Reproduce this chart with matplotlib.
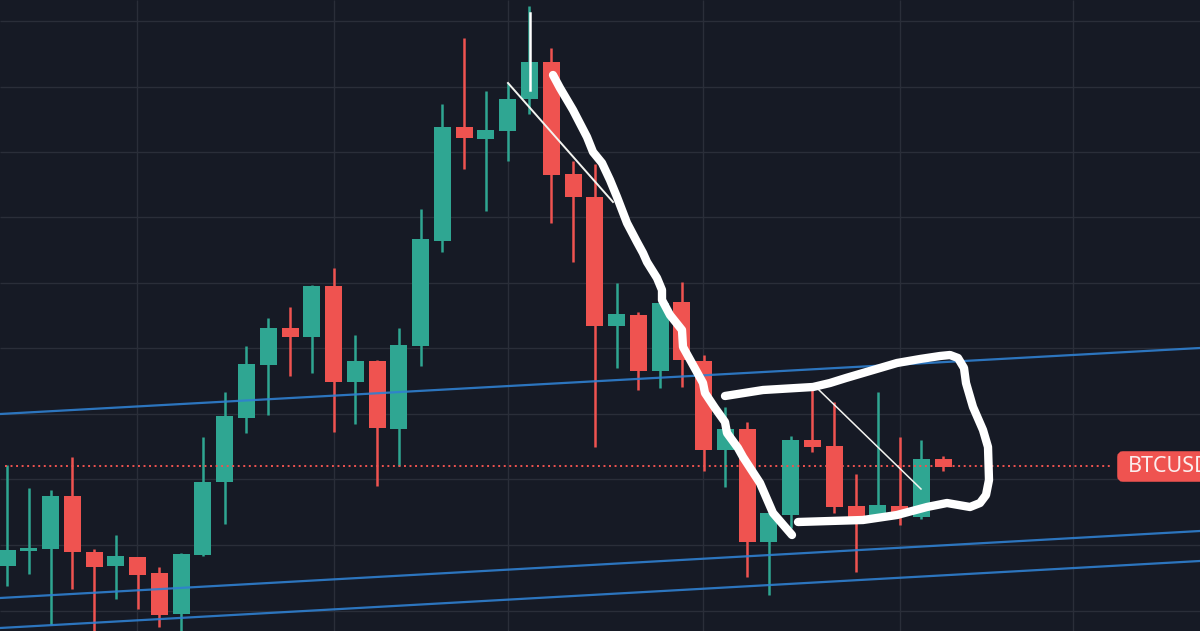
import matplotlib
matplotlib.use("Agg")
from matplotlib import pyplot as plt
from matplotlib.patches import FancyBboxPatch

opens = [566, 551, 549, 496, 552, 566, 557, 573, 614, 555, 482, 418, 365, 328, 337, 286, 382, 361, 429, 346, 241, 127,
         139, 131, 99, 62, 174, 197, 326, 315, 371, 302, 361, 450, 429, 542, 515, 440, 446, 506, 516, 506, 517, 459]
closes = [550, 548, 496, 552, 567, 556, 575, 615, 554, 482, 416, 364, 328, 337, 286, 382, 361, 428, 345, 239, 127, 138,
          130, 99, 62, 175, 197, 326, 314, 371, 303, 360, 450, 429, 542, 513, 440, 447, 507, 517, 505, 514, 459, 467]
highs = [465, 488, 490, 457, 549, 535, 557, 567, 553, 437, 392, 346, 318, 307, 285, 268, 335, 360, 328, 209, 104, 38,
         91, 83, 6, 48, 161, 164, 283, 312, 303, 282, 355, 407, 422, 513, 436, 383, 402, 474, 392, 437, 440, 456]
lows = [586, 574, 625, 589, 631, 599, 609, 627, 640, 556, 524, 433, 415, 376, 373, 432, 424, 486, 466, 366, 252, 169,
        211, 161, 114, 223, 262, 447, 368, 390, 388, 387, 471, 487, 577, 595, 528, 452, 513, 572, 520, 525, 519, 471]

grid_x = [137, 334, 508, 703, 900, 1073]
grid_y = [21, 87, 152, 217, 283, 348, 414, 479, 545, 611]

channel_x = [0, 1200]
channel_top = [414, 348]
channel_mid = [598, 531]
channel_low = [628, 561]

price_row = 465.5

# hand drawn marker strokes
stroke1_x = [553, 560, 573, 587, 593, 602, 610, 617, 627, 637, 643, 647, 657, 662, 662, 670, 682, 683, 693, 703, 705,
             715, 725, 727, 738, 743, 760, 773, 792]
stroke1_y = [75, 88, 110, 137, 152, 163, 180, 197, 223, 242, 253, 262, 278, 290, 300, 315, 330, 347, 365, 383, 393,
             408, 422, 433, 448, 457, 483, 513, 535]
stroke2_x = [725, 763, 813, 830, 846, 863, 897, 920, 940, 950, 958, 964, 966, 973, 983, 988, 989, 986, 980, 970, 947,
             927, 897, 863, 830, 798]
stroke2_y = [396, 390, 387, 383, 378, 373, 363, 359, 356, 355, 358, 368, 383, 407, 430, 447, 480, 495, 503, 507, 503,
             507, 515, 520, 521, 522]

# thin ruler lines
ruler1_x = [508, 613]
ruler1_y = [83, 202]
ruler2_x = [818, 921]
ruler2_y = [389, 489]
ruler3_x = [530, 530]
ruler3_y = [13, 90]

bg = '#161a25'
teal = '#2fa692'
red = '#ef5350'
blue = '#2f80d0'
gridc = '#2a2e39'

fig = plt.figure(figsize=(12, 6.31), dpi=100, facecolor=bg)
ax = fig.add_axes([0, 0, 1, 1])
ax.set_facecolor(bg)
ax.set_xlim(0, 1200)
ax.set_ylim(631, 0)
ax.axis('off')

ax.vlines(grid_x, 0, 631, color=gridc, lw=1.0, zorder=1)
ax.hlines(grid_y, 0, 1200, color=gridc, lw=1.0, zorder=1)

# candle spacing is about 21.77 px, first one sits at x=7
xs = [7 + 21.77 * i for i in range(len(opens))]
for x, o, c, h, l in zip(xs, opens, closes, highs, lows):
    col = teal if c < o else red
    ax.vlines(x, h, l, color=col, lw=1.8, zorder=2)
    ax.bar(x, abs(o - c), bottom=min(o, c), width=17, color=col, zorder=3)

for row in (channel_top, channel_mid, channel_low):
    ax.plot(channel_x, row, color=blue, lw=1.6, alpha=0.9, zorder=4)

ax.plot([5, 1113], [price_row, price_row], color=red, lw=1.4, ls=(0, (1, 1.85)), zorder=4)

ax.plot(ruler1_x, ruler1_y, color='#f4f4f0', lw=1.4, zorder=5)
ax.plot(ruler2_x, ruler2_y, color='#f4f4f0', lw=1.1, zorder=5)
ax.plot(ruler3_x, ruler3_y, color='white', lw=1.8, zorder=5)

ax.plot(stroke1_x, stroke1_y, color='white', lw=6, solid_capstyle='round', solid_joinstyle='round', zorder=6)
ax.plot(stroke2_x, stroke2_y, color='white', lw=6, solid_capstyle='round', solid_joinstyle='round', zorder=6)

label = FancyBboxPatch((1120, 454), 120, 25, boxstyle='round,pad=0,rounding_size=3', fc=red, ec=red, lw=4, zorder=7)
ax.add_patch(label)
ax.text(1128, 467, 'BTCUSD', color='#fbeeee', fontsize=15.5, family='Noto Sans', va='center', ha='left', zorder=8)

fig.savefig('out.png', dpi=100, facecolor=bg)
